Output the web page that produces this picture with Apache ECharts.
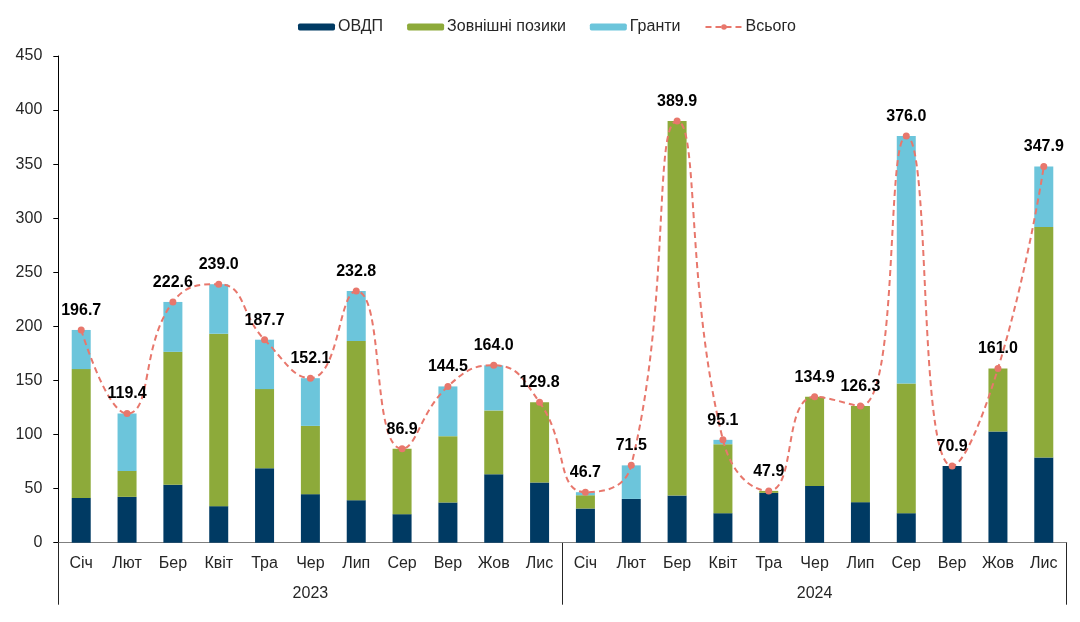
<!DOCTYPE html>
<html><head><meta charset="utf-8">
<script src="https://cdn.jsdelivr.net/npm/echarts@6/dist/echarts.min.js"></script>
<style>html,body{margin:0;padding:0;background:#fff}#c{width:1080px;height:622px}</style>
</head><body><div id="c"></div>
<script>
const months = ['Січ','Лют','Бер','Квіт','Тра','Чер','Лип','Сер','Вер','Жов','Лис',
                'Січ','Лют','Бер','Квіт','Тра','Чер','Лип','Сер','Вер','Жов','Лис'];
const years = ['2023','2024'];
const ovdp   = [41.4,42.4,53.5,33.8,68.9,44.9,39.3,26.4,37.2,63.4,55.7,
                31.6,40.5,43.6,27.3,46.1,52.5,37.5,27.3,70.9,102.9,78.8];
const zovn   = [119.1,24.0,123.0,159.4,73.1,63.1,147.1,60.5,61.3,58.9,74.1,
                12.3,0,346.3,63.8,1.8,82.4,88.8,120.0,0,58.1,213.1];
const granty = [36.2,53.0,46.1,45.8,45.7,44.1,46.4,0,46.0,41.7,0,
                2.8,31.0,0,4.0,0,0,0,228.7,0,0,56.0];
const total  = [196.7,119.4,222.6,239.0,187.7,152.1,232.8,86.9,144.5,164.0,129.8,
                46.7,71.5,389.9,95.1,47.9,134.9,126.3,376.0,70.9,161.0,347.9];
const yTicks = [0,50,100,150,200,250,300,350,400,450];

const FONT = 'Liberation Sans, Arial, sans-serif';
const chart = echarts.init(document.getElementById('c'), null, {renderer:'canvas'});
chart.setOption({
  animation:false,
  textStyle:{fontFamily:FONT},
  legend:{
    left:293, top:14, itemWidth:37, itemHeight:7, itemGap:24,
    textStyle:{fontSize:16, color:'#262626', fontFamily:FONT, padding:[0,0,0,-2]},
    data:['ОВДП','Зовнішні позики','Гранти','Всього']
  },
  grid:{left:58.3, right:13.3, top:56, bottom:79.3, containLabel:false},
  xAxis:[{
    type:'category', data:months, boundaryGap:true,
    axisLine:{show:true, lineStyle:{color:'#7f7f7f', width:1}},
    axisTick:{show:false},
    axisLabel:{fontSize:16, color:'#262626', margin:13, interval:0, fontFamily:FONT}
  },{
    type:'category', data:years, position:'bottom', offset:0, boundaryGap:true,
    axisLine:{show:false},
    axisTick:{show:true, length:62, lineStyle:{color:'#262626', width:1}},
    axisLabel:{fontSize:16, color:'#262626', margin:43, fontFamily:FONT}
  }],
  yAxis:{
    type:'value', min:yTicks[0], max:yTicks[yTicks.length-1], interval:50,
    splitLine:{show:false},
    axisLine:{show:true, lineStyle:{color:'#000', width:1}},
    axisTick:{show:true, length:5, lineStyle:{color:'#000'}},
    axisLabel:{fontSize:16, color:'#262626', margin:16, fontFamily:FONT}
  },
  series:[
    {name:'ОВДП', type:'bar', stack:'s', data:ovdp, barWidth:19, itemStyle:{color:'#003A63'}},
    {name:'Зовнішні позики', type:'bar', stack:'s', data:zovn, barWidth:19, itemStyle:{color:'#8DAA3A'}},
    {name:'Гранти', type:'bar', stack:'s', data:granty, barWidth:19, itemStyle:{color:'#6CC5DB'}},
    {name:'Всього', type:'line', data:total, smooth:0.5, symbol:'circle', symbolSize:7,
     lineStyle:{color:'#E8776C', width:2, type:[6,4]},
     itemStyle:{color:'#E8776C'},
     label:{show:true, position:'top', distance:8, fontSize:16, fontWeight:'bold', color:'#000',
            fontFamily:FONT, formatter:p=>p.value.toFixed(1)},
     z:5}
  ]
});
</script></body></html>
